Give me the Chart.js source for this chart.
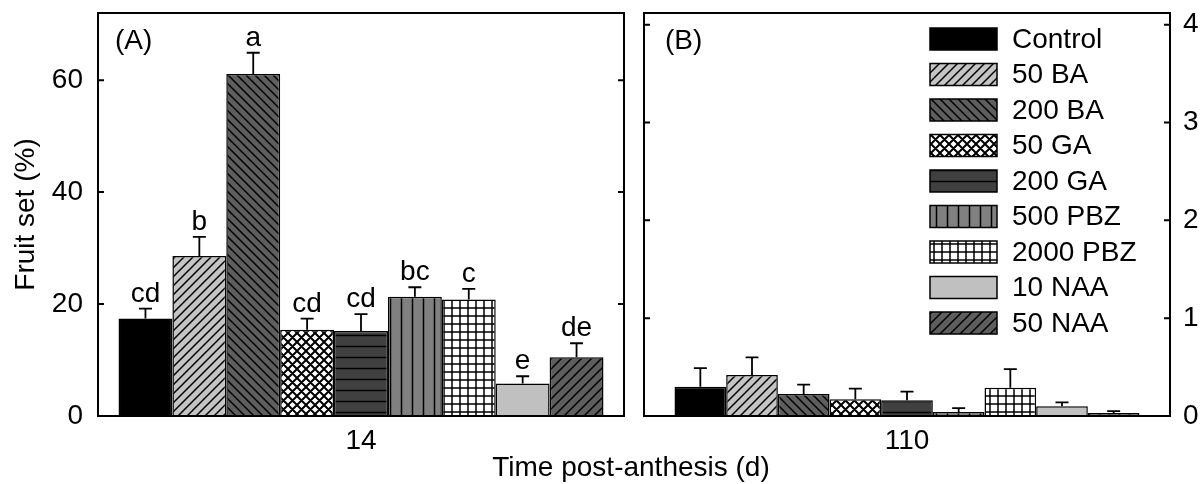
<!DOCTYPE html>
<html>
<head>
<meta charset="utf-8">
<script src="https://cdn.jsdelivr.net/npm/chart.js@4"></script>
<style>
  html, body { margin: 0; padding: 0; background: #fff; }
  #wrap { position: relative; width: 1203px; height: 484px; overflow: hidden; }
  #c1 { position: absolute; left: 0; top: 0; }
  #c2 { position: absolute; left: 634px; top: 0; }
  #xtitle { position: absolute; left: 0; width: 1262px; top: 451px; text-align: center;
            font: 28px 'Liberation Sans', Arial, sans-serif; color: #000; }
</style>
</head>
<body>
<div id="wrap">
  <canvas id="c1" width="634" height="484"></canvas>
  <canvas id="c2" width="569" height="484"></canvas>
  <div id="xtitle">Time post-anthesis (d)</div>
</div>
<script>
// data
const treatments = ['Control', '50 BA', '200 BA', '50 GA', '200 GA', '500 PBZ', '2000 PBZ', '10 NAA', '50 NAA'];
const day14 = [17.4, 28.6, 61.1, 15.4, 15.2, 21.3, 20.8, 5.8, 10.5];
const day14Err = [1.8, 3.4, 3.8, 2.0, 3.0, 1.7, 1.9, 1.3, 2.5];
const day14Letters = ['cd', 'b', 'a', 'cd', 'cd', 'bc', 'c', 'e', 'de'];
const day110 = [0.30, 0.42, 0.225, 0.17, 0.16, 0.04, 0.29, 0.10, 0.03];
const day110Err = [0.19, 0.18, 0.095, 0.11, 0.09, 0.04, 0.19, 0.04, 0.02];
const yTicks14 = [0, 20, 40, 60];
const yTicks110 = [0, 1, 2, 3, 4];

const FONT = "'Liberation Sans', Arial, sans-serif";
Chart.defaults.font.family = FONT;
Chart.defaults.font.size = 28;
Chart.defaults.color = '#000';

// hatch fills
function makePattern(bg, kind, s, lw) {
    const c = document.createElement('canvas');
    c.width = s; c.height = s;
    const g = c.getContext('2d');
    g.fillStyle = bg;
    g.fillRect(0, 0, s, s);
    g.strokeStyle = '#000';
    g.lineWidth = lw;
    g.beginPath();
    if (kind.includes('/')) {
        g.moveTo(-1, 1); g.lineTo(1, -1);
        g.moveTo(0, s); g.lineTo(s, 0);
        g.moveTo(s - 1, s + 1); g.lineTo(s + 1, s - 1);
    }
    if (kind.includes('\\')) {
        g.moveTo(0, 0); g.lineTo(s, s);
        g.moveTo(-1, s - 1); g.lineTo(1, s + 1);
        g.moveTo(s - 1, -1); g.lineTo(s + 1, 1);
    }
    if (kind.includes('-')) {
        g.moveTo(0, s / 2); g.lineTo(s, s / 2);
    }
    if (kind.includes('|')) {
        g.moveTo(s / 2, 0); g.lineTo(s / 2, s);
    }
    g.stroke();
    return g.createPattern(c, 'repeat');
}

const fills = [
    '#000000',
    makePattern('#c4c4c4', '/', 9, 1.5),
    makePattern('#5e5e5e', '\\', 9, 1.5),
    makePattern('#ffffff', '/\\', 9, 2),
    makePattern('#404040', '-', 11, 1.5),
    makePattern('#808080', '|', 11, 1.5),
    makePattern('#ffffff', '-|', 8, 1.5),
    '#c0c0c0',
    makePattern('#5e5e5e', '/', 10, 1.5)
];

function makeDatasets(values) {
    return treatments.map((t, i) => ({
        label: t,
        data: [values[i]],
        backgroundColor: fills[i],
        borderColor: '#000',
        borderWidth: 1.5,
        barPercentage: 1.0
    }));
}

const panelPlugin = {
    id: 'panel',
    afterDatasetsDraw(chart, args, opts) {
        const ctx = chart.ctx;
        const a = chart.chartArea;
        const y = chart.scales.y;
        ctx.save();
        ctx.strokeStyle = '#000';
        ctx.fillStyle = '#000';
        ctx.font = '28px ' + FONT;

        // error bars + letters
        chart.data.datasets.forEach((ds, i) => {
            const bar = chart.getDatasetMeta(i).data[0];
            const top = y.getPixelForValue(ds.data[0] + opts.errors[i]);
            ctx.lineWidth = 1.8;
            ctx.beginPath();
            ctx.moveTo(bar.x, bar.y);
            ctx.lineTo(bar.x, top);
            ctx.moveTo(bar.x - 6.5, top);
            ctx.lineTo(bar.x + 6.5, top);
            ctx.stroke();
            if (opts.letters) {
                ctx.textAlign = 'center';
                ctx.textBaseline = 'alphabetic';
                ctx.fillText(opts.letters[i], bar.x, top - 7);
            }
        });

        // frame
        ctx.lineWidth = 2;
        ctx.strokeRect(a.left, a.top, a.right - a.left, a.bottom - a.top);

        // inward ticks on both sides
        opts.ticks.forEach(v => {
            const py = y.getPixelForValue(v);
            ctx.beginPath();
            ctx.moveTo(a.left, py); ctx.lineTo(a.left + 6, py);
            ctx.moveTo(a.right, py); ctx.lineTo(a.right - 6, py);
            ctx.stroke();
        });

        // panel tag
        ctx.textAlign = 'left';
        ctx.textBaseline = 'middle';
        ctx.fillText(opts.tag, a.left + opts.tagX, a.top + 28);

        // legend
        if (opts.legend) {
            chart.data.datasets.forEach((ds, i) => {
                const bx = 930 - 634, by = 28 + i * 35.5;
                ctx.fillStyle = ds.backgroundColor;
                ctx.fillRect(bx, by, 67, 22);
                ctx.lineWidth = 1.5;
                ctx.strokeRect(bx, by, 67, 22);
                ctx.fillStyle = '#000';
                ctx.textBaseline = 'middle';
                ctx.fillText(ds.label, bx + 82, by + 12);
            });
        }
        ctx.restore();
    }
};

function baseOptions(cfg) {
    return {
        responsive: false,
        animation: false,
        devicePixelRatio: 1,
        layout: { padding: cfg.padding },
        plugins: {
            legend: { display: false },
            tooltip: { enabled: false },
            panel: cfg.panel
        },
        scales: {
            x: {
                grid: { display: false, drawTicks: false },
                border: { display: false },
                ticks: { padding: 8, maxRotation: 0 },
                afterFit: s => { s.height = 68; s.paddingLeft = 0; s.paddingRight = 0; }
            },
            y: {
                position: cfg.yPos,
                min: 0,
                max: cfg.yMax,
                grid: { display: false, drawTicks: false },
                border: { display: false },
                ticks: { stepSize: cfg.step, includeBounds: false, padding: cfg.tickPad },
                title: cfg.title,
                afterFit: s => { s.width = cfg.yWidth; s.paddingTop = 0; s.paddingBottom = 0; }
            }
        }
    };
}

new Chart(document.getElementById('c1'), {
    type: 'bar',
    data: {
        labels: ['14'],
        datasets: makeDatasets(day14).map(d => ({ ...d, categoryPercentage: 0.922 }))
    },
    options: baseOptions({
        padding: { top: 13, right: 10, left: 0, bottom: 0 },
        yPos: 'left',
        yMax: 72,
        step: 20,
        tickPad: 15,
        yWidth: 98,
        title: { display: true, text: 'Fruit set (%)', padding: { top: 9, bottom: 0 } },
        panel: { errors: day14Err, letters: day14Letters, ticks: yTicks14, tag: '(A)', tagX: 17, legend: false }
    }),
    plugins: [panelPlugin]
});

new Chart(document.getElementById('c2'), {
    type: 'bar',
    data: {
        labels: ['110'],
        datasets: makeDatasets(day110).map(d => ({ ...d, categoryPercentage: 0.884 }))
    },
    options: baseOptions({
        padding: { top: 13, right: 0, left: 10, bottom: 0 },
        yPos: 'right',
        yMax: 4.12,
        step: 1,
        tickPad: 13,
        yWidth: 33,
        title: { display: false },
        panel: { errors: day110Err, letters: null, ticks: yTicks110, tag: '(B)', tagX: 21, legend: true }
    }),
    plugins: [panelPlugin]
});
</script>
</body>
</html>
